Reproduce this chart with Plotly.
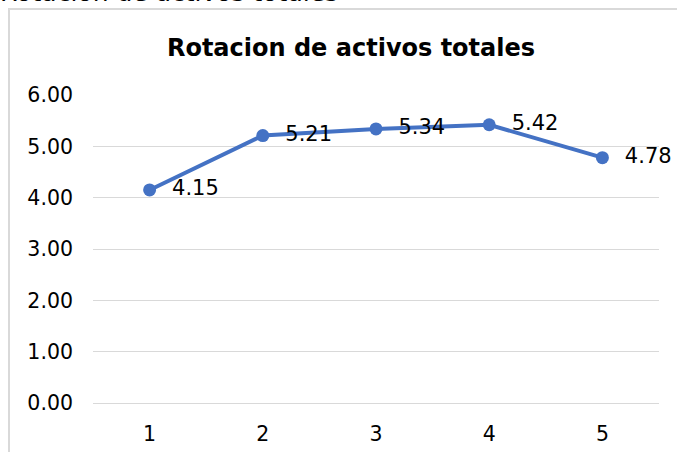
import plotly.graph_objects as go

# Periods and total-asset turnover values
periods = [1, 2, 3, 4, 5]
turnover = [4.15, 5.21, 5.34, 5.42, 4.78]
y_ticks = [0, 1, 2, 3, 4, 5, 6]
title_text = "Rotacion de activos totales"

FONT = "DejaVu Sans, Arial, sans-serif"
W, H = 677, 452
L, R, T, B = 93, 18, 95, 49
plot_w = W - L - R
plot_h = H - T - B


def px_x(px):
    return (px - L) / plot_w


def px_y(py):
    return (H - B - py) / plot_h


# Non-breaking spaces push each value label a little away from its marker
labels = ["\u00a0\u00a0" + f"{v:.2f}" for v in turnover]

fig = go.Figure()
fig.add_trace(go.Scatter(
    x=periods,
    y=turnover,
    mode="lines+markers+text",
    line=dict(color="#4472C4", width=4),
    marker=dict(color="#4472C4", size=13),
    text=labels,
    textposition="middle right",
    textfont=dict(family=FONT, size=21, color="#000000"),
    cliponaxis=False,
    hoverinfo="skip",
))

fig.update_layout(
    width=W, height=H,
    margin=dict(l=L, r=R, t=T, b=B),
    paper_bgcolor="white",
    plot_bgcolor="white",
    showlegend=False,
    font=dict(family=FONT, color="#000000"),
    title=dict(
        text=f"<b>{title_text}</b>",
        xref="container", yref="container",
        x=351 / W, xanchor="center",
        y=1 - 48 / H, yanchor="middle",
        font=dict(size=24, color="#000000"),
    ),
    xaxis=dict(
        range=[0.5, 5.5],
        tickvals=periods,
        ticktext=[str(p) for p in periods],
        showgrid=False, zeroline=False, showline=False,
        ticks="", tickfont=dict(size=20.5),
        ticklabelstandoff=16,
        automargin=False,
    ),
    yaxis=dict(
        range=[0, 6],
        tickvals=y_ticks,
        ticktext=[f"{v:.2f}" for v in y_ticks],
        showgrid=True, gridcolor="#d9d9d9", gridwidth=1,
        zeroline=True, zerolinecolor="#d9d9d9", zerolinewidth=1,
        showline=False, ticks="", ticklen=0,
        tickfont=dict(size=20.5),
        ticklabelstandoff=19,
        automargin=False,
    ),
)

# Chart frame (left and top edges visible)
fig.add_shape(
    type="path",
    xref="paper", yref="paper",
    path=f"M {px_x(9)},{px_y(470)} L {px_x(9)},{px_y(9)} L {px_x(700)},{px_y(9)}",
    line=dict(color="#d9d9d9", width=2),
)

# Caption above the frame
fig.add_annotation(
    text=title_text,
    xref="paper", yref="paper",
    x=px_x(-2), y=px_y(9.5),
    xanchor="left", yanchor="bottom",
    showarrow=False,
    font=dict(family=FONT, size=25, color="#000000"),
)

fig.write_html("out.html")
